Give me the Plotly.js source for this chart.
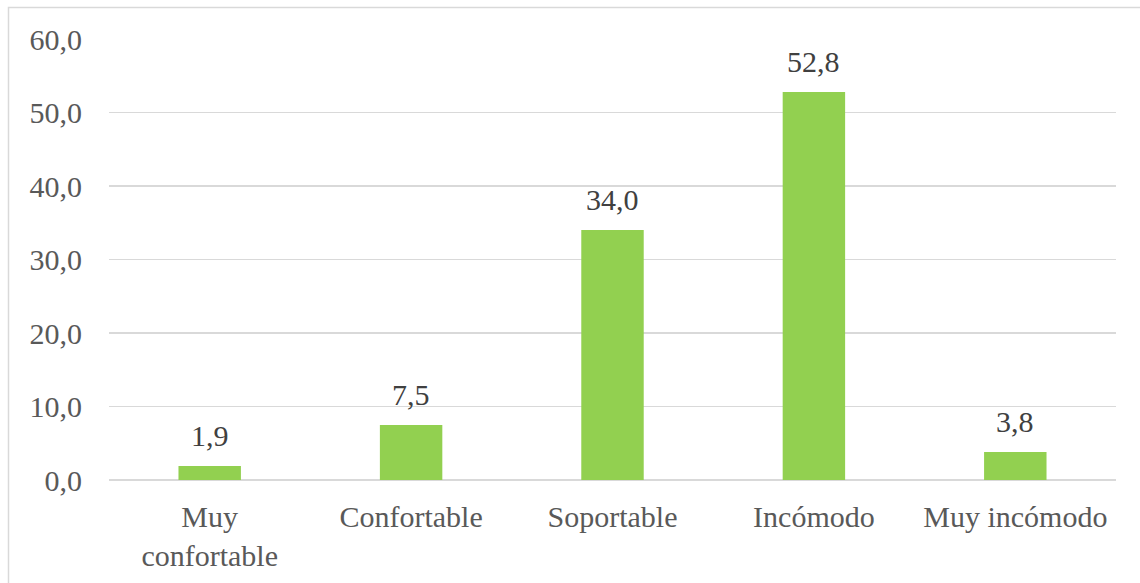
<!DOCTYPE html>
<html>
<head>
<meta charset="utf-8">
<script src="https://cdn.plot.ly/plotly-3.0.1.min.js"></script>
<style>html,body{margin:0;padding:0;background:#fff;}#chart{width:1140px;height:583px;}</style>
</head>
<body>
<div id="chart"></div>
<script>
const categories = ["Muy<br>confortable", "Confortable", "Soportable", "Incómodo", "Muy incómodo"];
const values = [1.9, 7.5, 34.0, 52.8, 3.8];
const labels = ["1,9", "7,5", "34,0", "52,8", "3,8"];
const yTickVals = [0, 10, 20, 30, 40, 50, 60];
const yTickText = ["0,0", "10,0", "20,0", "30,0", "40,0", "50,0", "60,0"];

const font = '"Times New Roman", "Liberation Serif", Tinos, "DejaVu Serif", serif';
const W = 1140, H = 583, L = 109, R = 24, T = 39, B = 103;
const pw = W - L - R, ph = H - T - B;

const trace = {
  type: 'bar',
  x: categories,
  y: values,
  marker: {color: '#92D050'},
  width: 0.31,
  hoverinfo: 'none'
};

const annotations = categories.map((c, i) => ({
  x: c, y: values[i], xref: 'x', yref: 'y',
  text: labels[i], showarrow: false, yanchor: 'bottom', yshift: 12,
  font: {family: font, size: 30, color: '#404040'}
}));

const layout = {
  width: W, height: H,
  margin: {l: L, r: R, t: T, b: B, pad: 0},
  paper_bgcolor: '#fff', plot_bgcolor: '#fff',
  showlegend: false,
  font: {family: font},
  xaxis: {
    showgrid: false, zeroline: false, showline: false, ticks: '',
    tickfont: {family: font, size: 30, color: '#595959'},
    ticklabelstandoff: 16,
    fixedrange: true
  },
  yaxis: {
    range: [0, 60], tickvals: yTickVals, ticktext: yTickText,
    showgrid: true, gridcolor: '#d9d9d9', gridwidth: 1.3,
    zeroline: true, zerolinecolor: '#d9d9d9', zerolinewidth: 1.3,
    showline: false, ticks: '',
    tickfont: {family: font, size: 30, color: '#595959'},
    ticklabelstandoff: 26,
    fixedrange: true
  },
  annotations: annotations,
  shapes: [{
    type: 'rect', xref: 'paper', yref: 'paper',
    x0: (8.5 - L) / pw, x1: 1.2,
    y0: -0.5, y1: (H - B - 7.5) / ph,
    line: {color: '#d9d9d9', width: 1.5}, fillcolor: 'rgba(0,0,0,0)', layer: 'below'
  }]
};

Plotly.newPlot('chart', [trace], layout, {displayModeBar: false, staticPlot: true});
</script>
</body>
</html>
